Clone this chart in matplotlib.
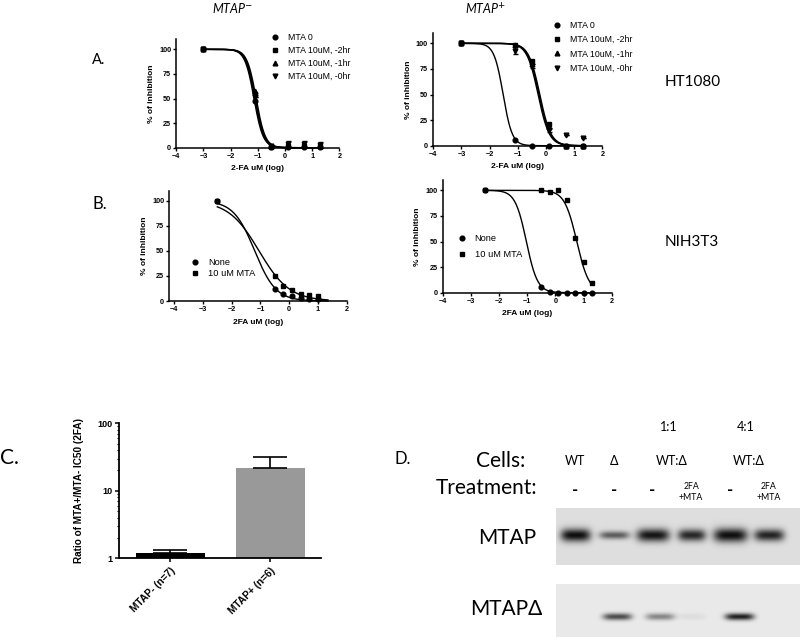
import numpy as np
import matplotlib
matplotlib.use('Agg')
import matplotlib.pyplot as plt

W, H = 800, 637
plt.rcParams['font.family'] = ['Liberation Sans', 'DejaVu Sans']
LABEL_FONT = ['Lato', 'DejaVu Sans']

# ---- data ----
# A: HT1080, log uM 2-FA
a_x = [-3, -1.1, -0.5, 0.1, 0.7, 1.3]
a_names = ['MTA 0', 'MTA 10uM, -2hr', 'MTA 10uM, -1hr', 'MTA 10uM, -0hr']
a_neg_y = [[100, 47, 1, 1, 1, 1],
           [100, 55, 1, 2, 2, 2],
           [100, 58, 2, 3, 3, 2],
           [100, 52, 2, 4, 4, 3]]
a_neg_err = [0, 0, 0, 3, 3, 3]
a_neg_ic50 = [-1.14, -1.09, -1.06, -1.11]
a_neg_hill = [2.6, 2.6, 2.6, 2.6]

a_pos_y = [[100, 6, 0, 0, 0, 0],
           [100, 98, 83, 21, 0, 0],
           [100, 98, 80, 18, 0, 0],
           [100, 93, 78, 15, 10, 8]]
a_pos_err = [0, 3, 2, 2, 0, 0]
a_pos_ic50 = [-1.52, -0.22, -0.25, -0.28]
a_pos_hill = [2.7, 2.2, 2.2, 2.2]

# B: NIH3T3
b_names = ['None', '10 uM MTA']
b_neg_x = [-2.5, -0.5, -0.2, 0.1, 0.4, 0.7, 1.0]
b_neg_y = [[100, 12, 7, 5, 3, 2, 2],
           [100, 25, 15, 11, 7, 6, 5]]
b_neg_ic50 = [-1.2, -1.05]
b_neg_hill = [1.18, 0.82]

b_pos_x = [-2.5, -0.5, -0.2, 0.1, 0.4, 0.7, 1.0, 1.3]
b_pos_y = [[100, 6, 1, 0, 0, 0, 0, 0],
           [100, 100, 98, 100, 91, 53, 30, 9]]
b_pos_ic50 = [-1.03, 0.76]
b_pos_hill = [2.2, 2.0]

# C: IC50 ratio
c_labels = ['MTAP- (n=7)', 'MTAP+ (n=6)']
c_vals = [1.21, 22]
c_err = [0.1, 9.4]
c_colors = ['#000000', '#999999']

# D: western blot
d_cells = ['WT', '\u0394', 'WT:\u0394', 'WT:\u0394']
d_ratio = ['1:1', '4:1']
d_treat = ['-', '-', '-', '2FA\n+MTA', '-', '2FA\n+MTA']
mtap_band = [1.0, 0.62, 0.97, 0.88, 1.0, 0.9]          # darkness per lane
mtap_width = [30, 30, 33, 28, 34, 30]
mtap_height = [13, 8, 13, 12, 14, 12]
mtapd_lane = [1, 2, 3, 4]
mtapd_band = [0.72, 0.45, 0.06, 0.92]
mtapd_shift = [3, 7, 0, 9]


def rect(l, t, r, b):
    return [l / W, 1 - b / H, (r - l) / W, (b - t) / H]


def hill(x, ic50, h):
    return 100.0 / (1 + 10 ** ((x - ic50) * h))


def dose_axes(ax, xlim, fs=5.2):
    ax.set_xlim(*xlim)
    ax.set_ylim(0, 110)
    for s in ['top', 'right']:
        ax.spines[s].set_visible(False)
    for s in ['left', 'bottom']:
        ax.spines[s].set_linewidth(1.1)
    ax.spines['left'].set_bounds(0, 110)
    ax.set_xticks(range(-4, 3))
    ax.set_yticks([0, 25, 50, 75, 100])
    ax.tick_params(length=2.5, width=1.0, pad=1.2, labelsize=fs)
    for t in ax.get_xticklabels() + ax.get_yticklabels():
        t.set_fontweight('bold')
    ax.patch.set_alpha(0)


markers = ['o', 's', '^', 'v']

fig = plt.figure(figsize=(W / 100, H / 100), dpi=100)

# ---- A left ----
ax = fig.add_axes(rect(176.3, 39.5, 339.3, 147.7))
xx = np.linspace(-3, 1.3, 200)
for i in range(4):
    ax.plot(xx, hill(xx, a_neg_ic50[i], a_neg_hill[i]), color='k', lw=1.0, clip_on=False)
    ax.plot(a_x, a_neg_y[i], markers[i], color='k', ms=3.4, clip_on=False, label=a_names[i])
ax.errorbar(a_x, a_neg_y[3], yerr=a_neg_err, fmt='none', ecolor='k', elinewidth=1, capsize=1.8, clip_on=False)
dose_axes(ax, (-4, 2))
ax.set_ylabel('% of inhibition', fontsize=6, fontweight='bold', labelpad=3)
ax.set_xlabel('2-FA uM (log)', fontsize=6, fontweight='bold', labelpad=4)
ax.legend(loc='upper left', bbox_to_anchor=(271 / W, 1 - 33 / H), bbox_transform=fig.transFigure,
          frameon=False, fontsize=6.3, handlelength=1, handletextpad=0.9, labelspacing=0.45,
          borderpad=0, borderaxespad=0)

# ---- A right ----
ax = fig.add_axes(rect(433.2, 33.1, 602.4, 145.7))
for i in range(4):
    ax.plot(xx, hill(xx, a_pos_ic50[i], a_pos_hill[i]), color='k', lw=1.0, clip_on=False)
    ax.plot(a_x, a_pos_y[i], markers[i], color='k', ms=3.4, clip_on=False, label=a_names[i])
ax.errorbar(a_x, a_pos_y[3], yerr=a_pos_err, fmt='none', ecolor='k', elinewidth=1, capsize=1.8, clip_on=False)
dose_axes(ax, (-4, 2))
ax.set_ylabel('% of inhibition', fontsize=6, fontweight='bold', labelpad=3)
ax.set_xlabel('2-FA uM (log)', fontsize=6, fontweight='bold', labelpad=4)
ax.legend(loc='upper left', bbox_to_anchor=(553 / W, 1 - 21 / H), bbox_transform=fig.transFigure,
          frameon=False, fontsize=6.3, handlelength=1, handletextpad=0.9, labelspacing=0.6,
          borderpad=0, borderaxespad=0)

# ---- B left ----
ax = fig.add_axes(rect(169.3, 190.7, 346.7, 301))
xb = np.linspace(-2.5, 1.35, 200)
for i in range(2):
    ax.plot(xb, hill(xb, b_neg_ic50[i], b_neg_hill[i]), color='k', lw=1.0, clip_on=False)
    ax.plot(b_neg_x, b_neg_y[i], markers[i], color='k', ms=3.4, clip_on=False, label=b_names[i])
dose_axes(ax, (-4.17, 2))
ax.set_ylabel('% of inhibition', fontsize=6, fontweight='bold', labelpad=3)
ax.set_xlabel('2FA uM (log)', fontsize=6, fontweight='bold', labelpad=4)
ax.legend(loc='upper left', bbox_to_anchor=(190.5 / W, 1 - 258 / H), bbox_transform=fig.transFigure,
          frameon=False, fontsize=6.7, handlelength=1, handletextpad=0.9, labelspacing=0.25,
          borderpad=0, borderaxespad=0)

# ---- B right ----
ax = fig.add_axes(rect(442.7, 180.1, 611.7, 292.7))
xb = np.linspace(-2.5, 1.3, 200)
for i in range(2):
    ax.plot(xb, hill(xb, b_pos_ic50[i], b_pos_hill[i]), color='k', lw=1.0, clip_on=False)
    ax.plot(b_pos_x, b_pos_y[i], markers[i], color='k', ms=3.4, clip_on=False, label=b_names[i])
dose_axes(ax, (-4, 2))
ax.set_ylabel('% of inhibition', fontsize=6, fontweight='bold', labelpad=3)
ax.set_xlabel('2FA uM (log)', fontsize=6, fontweight='bold', labelpad=4)
ax.legend(loc='upper left', bbox_to_anchor=(457 / W, 1 - 234 / H), bbox_transform=fig.transFigure,
          frameon=False, fontsize=6.7, handlelength=1, handletextpad=0.9, labelspacing=0.75,
          borderpad=0, borderaxespad=0)

# ---- C ----
ax = fig.add_axes(rect(119, 423.3, 321, 558.3))
pos = np.arange(len(c_vals))
ax.bar(pos, c_vals, width=0.69, color=c_colors, bottom=0)
ax.errorbar(pos, c_vals, yerr=[[0, 0], c_err], fmt='none', ecolor='k', elinewidth=1.2, capsize=12, capthick=1.2)
ax.set_yscale('log')
ax.set_ylim(1, 100)
ax.set_xlim(-0.51, 1.505)
for s in ['top', 'right']:
    ax.spines[s].set_visible(False)
for s in ['left', 'bottom']:
    ax.spines[s].set_linewidth(1.3)
ax.set_yticks([1, 10, 100])
ax.set_yticklabels(['1', '10', '100'])
ax.set_xticks(pos)
ax.set_xticklabels(c_labels, rotation=45, ha='right', rotation_mode='anchor')
ax.tick_params(axis='both', which='major', length=3, width=1.1, pad=1.5, labelsize=6.5)
ax.tick_params(axis='y', which='minor', length=1.5, width=0.8)
ax.tick_params(axis='x', labelsize=7.3, pad=2)
for t in ax.get_xticklabels() + ax.get_yticklabels():
    t.set_fontweight('bold')
ax.set_ylabel('Ratio of MTA+/MTA- IC50 (2FA)', fontsize=7.2, fontweight='bold', labelpad=10)

# ---- D: blot ----
lane_px = 575 + 38.7 * np.arange(6)


def blot(ax, l, t, r, b, bg, bands):
    xs = np.arange(l, r)
    ys = np.arange(t, b)
    X, Y = np.meshgrid(xs, ys)
    dark = np.zeros_like(X, dtype=float)
    for cx, cy, w, h, d in bands:
        dark += d * np.exp(-((X - cx) / (w / 2)) ** 4) * np.exp(-((Y - cy) / (h / 2)) ** 2)
    img = bg - np.clip(dark, 0, 1) * (bg - 15)
    ax.imshow(img, cmap='gray', vmin=0, vmax=255, extent=(l, r, b, t), aspect='auto',
              interpolation='bilinear')
    ax.set_xlim(l, r)
    ax.set_ylim(b, t)
    ax.axis('off')


ax = fig.add_axes(rect(555.7, 508.3, 800, 565))
bands = [(lane_px[i], 535, mtap_width[i], mtap_height[i], mtap_band[i]) for i in range(6)]
blot(ax, 555.7, 508.3, 800, 565, 222, bands)

ax = fig.add_axes(rect(555.7, 584.3, 800, 637))
bands = [(lane_px[k] + mtapd_shift[j], 616.5, 29, 7, mtapd_band[j]) for j, k in enumerate(mtapd_lane)]
blot(ax, 555.7, 584.3, 800, 637, 234, bands)


def ftext(x, y, s, **kw):
    kw.setdefault('family', LABEL_FONT)
    fig.text(x / W, 1 - y / H, s, **kw)


# panel letters and row labels
ftext(92, 60, 'A.', fontsize=10.5, va='center')
ftext(92, 204, 'B.', fontsize=12, va='center')
ftext(0, 458, 'C.', fontsize=15, va='center')
ftext(395, 459, 'D.', fontsize=12, va='center')
ftext(665, 82, 'HT1080', fontsize=11, va='center')
ftext(665, 242, 'NIH3T3', fontsize=11, va='center')
ftext(233, 8, 'MTAP$^{-}$', fontsize=9, style='italic', ha='center', va='center')
ftext(486, 9, 'MTAP$^{+}$', fontsize=9, style='italic', ha='center', va='center')

ftext(525, 461, 'Cells:', fontsize=15, ha='right', va='center')
ftext(537, 488, 'Treatment:', fontsize=15, ha='right', va='center')
ftext(536, 538, 'MTAP', fontsize=15, ha='right', va='center')
ftext(542, 609, 'MTAP\u0394', fontsize=15, ha='right', va='center')

cell_px = [lane_px[0], lane_px[1], (lane_px[2] + lane_px[3]) / 2, (lane_px[4] + lane_px[5]) / 2]
for x, s in zip(cell_px, d_cells):
    ftext(x, 461, s, fontsize=9, ha='center', va='center')
for x, s in zip(cell_px[2:], d_ratio):
    ftext(x - 3, 427, s, fontsize=9, ha='center', va='center')
for x, s in zip(lane_px, d_treat):
    if s == '-':
        ftext(x, 490, s, fontsize=12, fontweight='bold', ha='center', va='center')
    else:
        ftext(x, 492, s, fontsize=6.3, ha='center', va='center', linespacing=1.3)

fig.savefig('out.png', dpi=100)
